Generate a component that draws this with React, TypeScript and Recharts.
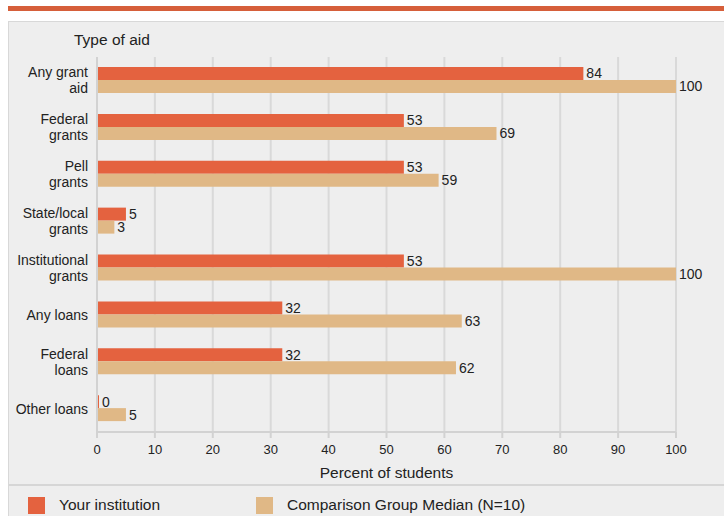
import React from 'react';
import { BarChart, Bar, XAxis, YAxis, CartesianGrid, LabelList } from 'recharts';

// ---------------------------------------------------------------------------
// Data
// ---------------------------------------------------------------------------

const CATEGORIES = [
  'Any grant\naid',
  'Federal\ngrants',
  'Pell\ngrants',
  'State/local\ngrants',
  'Institutional\ngrants',
  'Any loans',
  'Federal\nloans',
  'Other loans',
];

const YOUR_INSTITUTION = [84, 53, 53, 5, 53, 32, 32, 0];
const COMPARISON_MEDIAN = [100, 69, 59, 3, 100, 63, 62, 5];

const X_TICKS = [0, 10, 20, 30, 40, 50, 60, 70, 80, 90, 100];

const SERIES_NAMES = ['Your institution', 'Comparison Group Median (N=10)'];

// ---------------------------------------------------------------------------
// Styles
// ---------------------------------------------------------------------------

const ORANGE = '#e4623f';
const TAN = '#e0b886';
const FONT = '"Liberation Sans", Arial, Helvetica, sans-serif';
const TEXT = '#222222';
const AXIS_GRAY = '#d2d2d2';

const chartData = CATEGORIES.map((name, i) => ({
  name,
  yours: YOUR_INSTITUTION[i],
  median: COMPARISON_MEDIAN[i],
}));

const CategoryTick = (props: any) => {
  const { x, y, payload } = props;
  const lines: string[] = String(payload.value).split('\n');
  const lineH = 16;
  const start = y - ((lines.length - 1) * lineH) / 2;
  return (
    <g>
      {lines.map((line, i) => (
        <text
          key={i}
          x={x - 1}
          y={start + i * lineH}
          dy="0.36em"
          textAnchor="end"
          fontSize={14}
          fontFamily={FONT}
          fill={TEXT}
        >
          {line}
        </text>
      ))}
    </g>
  );
};

export default function App() {
  return (
    <div style={{ position: 'absolute', left: 0, top: 0, width: 724, height: 516, background: '#fff', fontFamily: FONT }}>
      {/* top accent line */}
      <div style={{ position: 'absolute', left: 8, top: 6, width: 716, height: 5, background: '#d65f3a' }} />

      {/* gray panel */}
      <div
        style={{
          position: 'absolute',
          left: 8,
          top: 21,
          width: 716,
          height: 495,
          background: '#eeeeee',
          borderLeft: '1px solid #d8d8d8',
          borderTop: '1px solid #d8d8d8',
          boxSizing: 'border-box',
        }}
      />

      <div style={{ position: 'absolute', left: 74, top: 30, fontSize: 15.5, color: TEXT, lineHeight: '20px' }}>
        Type of aid
      </div>

      <div style={{ position: 'absolute', left: 0, top: 0 }}>
        <BarChart
          width={724}
          height={486}
          data={chartData}
          layout="vertical"
          margin={{ top: 57, right: 48, bottom: 8, left: 0 }}
          barSize={13}
          barGap={0}
        >
          <CartesianGrid horizontal={false} stroke="#d9d9d9" strokeWidth={2} />
          <XAxis
            type="number"
            domain={[0, 100]}
            ticks={X_TICKS}
            interval={0}
            height={46}
            axisLine={{ stroke: AXIS_GRAY, strokeWidth: 2 }}
            tickLine={{ stroke: AXIS_GRAY, strokeWidth: 2 }}
            tickSize={6}
            tickMargin={7}
            tick={{ fontSize: 13, fill: TEXT, fontFamily: FONT }}
            label={{
              value: 'Percent of students',
              position: 'insideBottom',
              offset: 0,
              fontSize: 15.5,
              fill: TEXT,
              fontFamily: FONT,
            }}
          />
          <YAxis
            type="category"
            dataKey="name"
            width={97}
            axisLine={{ stroke: AXIS_GRAY, strokeWidth: 2 }}
            tickLine={false}
            tick={<CategoryTick />}
            interval={0}
          />
          <Bar dataKey="yours" fill={ORANGE} isAnimationActive={false} minPointSize={2}>
            <LabelList dataKey="yours" position="right" offset={3} fontSize={14} fill={TEXT} fontFamily={FONT} />
          </Bar>
          <Bar dataKey="median" fill={TAN} isAnimationActive={false}>
            <LabelList dataKey="median" position="right" offset={3} fontSize={14} fill={TEXT} fontFamily={FONT} />
          </Bar>
        </BarChart>
      </div>

      {/* legend separator */}
      <div style={{ position: 'absolute', left: 9, top: 484, width: 715, height: 2, background: '#d6d6d6' }} />

      {/* legend */}
      <div style={{ position: 'absolute', left: 28, top: 497, width: 17, height: 17, background: ORANGE }} />
      <div style={{ position: 'absolute', left: 59, top: 495, fontSize: 15.5, lineHeight: '20px', color: TEXT }}>
        {SERIES_NAMES[0]}
      </div>
      <div style={{ position: 'absolute', left: 256, top: 497, width: 17, height: 17, background: TAN }} />
      <div style={{ position: 'absolute', left: 287, top: 495, fontSize: 15.5, lineHeight: '20px', color: TEXT }}>
        {SERIES_NAMES[1]}
      </div>
    </div>
  );
}
